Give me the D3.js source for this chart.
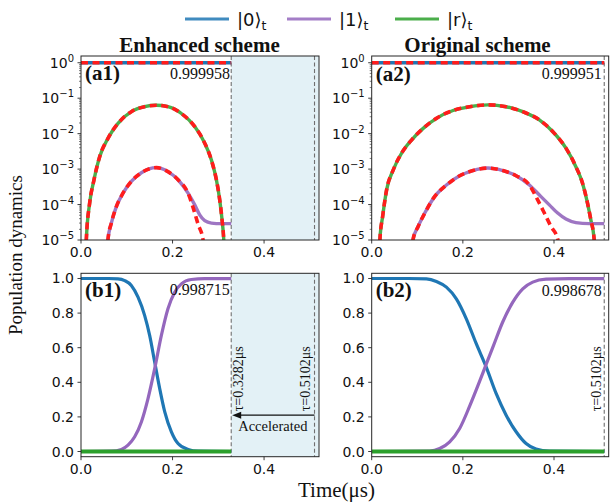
<!DOCTYPE html>
<html><head><meta charset="utf-8">
<script src="https://cdn.jsdelivr.net/npm/d3@7"></script>
<style>body{margin:0;background:#fff}</style>
</head><body><svg id="c" width="610" height="504"></svg>
<script>
// ---------------- data ----------------
const tauEnh = 0.3282, tauOrig = 0.5102;
const xTicks = [0, 0.2, 0.4];
const xTickLabels = ['0.0', '0.2', '0.4'];
const logTicks = [1, 1e-1, 1e-2, 1e-3, 1e-4, 1e-5];
const logTickExp = ['0', '\u22121', '\u22122', '\u22123', '\u22124', '\u22125'];
const linTicks = [0, 0.2, 0.4, 0.6, 0.8, 1.0];
const linTickLabels = ['0.0', '0.2', '0.4', '0.6', '0.8', '1.0'];
const legendLabels = ['|0\u27E9', '|1\u27E9', '|r\u27E9'];
const titles = ['Enhanced scheme', 'Original scheme'];
const fidelities = ['0.999958', '0.999951', '0.998715', '0.998678'];

// (a1) enhanced, log scale
const a1_t0 = [0, 0.3282];
const a1_p0 = [0.99996, 0.99996];
const a1_tr = [0.010, 0.0117, 0.0189, 0.0284, 0.0408, 0.059, 0.0809, 0.110, 0.139, 0.1647, 0.190, 0.2193, 0.2485, 0.2703, 0.2849, 0.2958, 0.3031, 0.3082, 0.3118, 0.3150];
const a1_pr = [1e-6, 1.07e-5, 1.10e-4, 5.0e-4, 2.24e-3, 7.4e-3, 1.95e-2, 4.17e-2, 5.75e-2, 6.3e-2, 5.75e-2, 3.7e-2, 1.58e-2, 5.4e-3, 1.8e-3, 5.0e-4, 1.35e-4, 3.7e-5, 1.07e-5, 1e-6];
const a1_t1 = [0.055, 0.059, 0.0663, 0.0772, 0.0918, 0.110, 0.1319, 0.1647, 0.190, 0.212, 0.2339, 0.2485, 0.2594, 0.2703, 0.2849, 0.3067, 0.3282];
const a1_p1 = [1e-6, 1.07e-5, 3.0e-5, 8.7e-5, 2.1e-4, 4.5e-4, 7.9e-4, 1.1e-3, 8.5e-4, 5.0e-4, 2.1e-4, 9.8e-5, 5.1e-5, 3.5e-5, 3.0e-5, 2.9e-5, 2.9e-5];
const a1_t1e = [0.055, 0.059, 0.0663, 0.0772, 0.0918, 0.110, 0.1319, 0.1647, 0.190, 0.212, 0.2339, 0.2448, 0.2557, 0.2667, 0.2720];
const a1_p1e = [1e-6, 1.07e-5, 3.0e-5, 8.7e-5, 2.1e-4, 4.5e-4, 7.9e-4, 1.1e-3, 8.5e-4, 5.0e-4, 2.1e-4, 8.3e-5, 2.8e-5, 1.0e-5, 1e-6];

// (a2) original, log scale
const a2_t0 = [0, 0.5102];
const a2_p0 = [0.99995, 0.99995];
const a2_tr = [0.015, 0.0181, 0.024, 0.0327, 0.0473, 0.0655, 0.0874, 0.1129, 0.142, 0.1784, 0.2149, 0.2549, 0.295, 0.3314, 0.3679, 0.397, 0.4262, 0.448, 0.4626, 0.4735, 0.4808, 0.488, 0.491];
const a2_pr = [1e-6, 1.07e-5, 4.6e-5, 2.6e-4, 9.5e-4, 2.8e-3, 6.6e-3, 1.41e-2, 2.7e-2, 4.5e-2, 5.75e-2, 6.5e-2, 5.75e-2, 4.17e-2, 2.45e-2, 1.15e-2, 3.9e-3, 1.17e-3, 4.0e-4, 1.10e-4, 3.7e-5, 1.07e-5, 1e-6];
const a2_t1 = [0.085, 0.091, 0.1019, 0.1165, 0.1384, 0.1639, 0.193, 0.2221, 0.2549, 0.2877, 0.3169, 0.346, 0.3679, 0.3897, 0.408, 0.4262, 0.448, 0.4772, 0.5102];
const a2_p1 = [1e-6, 1.07e-5, 2.4e-5, 5.75e-5, 1.7e-4, 3.55e-4, 6.5e-4, 9.1e-4, 1.07e-3, 9.1e-4, 6.5e-4, 3.55e-4, 1.86e-4, 9.8e-5, 5.75e-5, 3.9e-5, 3.1e-5, 2.9e-5, 2.9e-5];
const a2_t1e = [0.085, 0.091, 0.1019, 0.1165, 0.1384, 0.1639, 0.193, 0.2221, 0.2549, 0.2877, 0.3169, 0.346, 0.3642, 0.3788, 0.3934, 0.408, 0.414];
const a2_p1e = [1e-6, 1.07e-5, 2.4e-5, 5.75e-5, 1.7e-4, 3.55e-4, 6.5e-4, 9.1e-4, 1.07e-3, 9.1e-4, 6.5e-4, 3.55e-4, 1.35e-4, 5.75e-5, 2.4e-5, 1.07e-5, 1e-6];

// (b1) enhanced, linear
const b1_t0 = [0, 0.060, 0.0809, 0.0954, 0.110, 0.1246, 0.139, 0.150, 0.161, 0.172, 0.183, 0.1975, 0.212, 0.234, 0.2557, 0.3282];
const b1_p0 = [1.0, 1.0, 0.998, 0.988, 0.960, 0.892, 0.787, 0.671, 0.517, 0.363, 0.229, 0.114, 0.046, 0.012, 0.002, 0.0];
const b1_t1 = [0, 0.0663, 0.0882, 0.1027, 0.1173, 0.1319, 0.1464, 0.161, 0.1756, 0.190, 0.2047, 0.2193, 0.241, 0.2703, 0.3282];
const b1_p1 = [0, 0.002, 0.012, 0.037, 0.085, 0.171, 0.306, 0.479, 0.671, 0.825, 0.921, 0.969, 0.994, 0.999, 0.9987];
const b1_tr = [0, 0.3282];
const b1_pr = [0, 0];

// (b2) original, linear
const b2_t0 = [0, 0.080, 0.1202, 0.142, 0.1639, 0.1857, 0.2076, 0.2294, 0.2513, 0.2732, 0.295, 0.3169, 0.3387, 0.3606, 0.3897, 0.5102];
const b2_p0 = [1.0, 1.0, 0.998, 0.983, 0.950, 0.882, 0.767, 0.623, 0.488, 0.334, 0.210, 0.114, 0.046, 0.014, 0.002, 0.0];
const b2_t1 = [0, 0.1274, 0.1493, 0.1711, 0.193, 0.2149, 0.2367, 0.2513, 0.2659, 0.2877, 0.3096, 0.3314, 0.3533, 0.3824, 0.4334, 0.5102];
const b2_p1 = [0, 0.002, 0.017, 0.056, 0.133, 0.262, 0.405, 0.505, 0.603, 0.750, 0.863, 0.940, 0.979, 0.996, 0.999, 0.9987];
const b2_tr = [0, 0.5102];
const b2_pr = [0, 0];

// ---------------- drawing ----------------
const svg = d3.select('#c');
const serif = "'Liberation Serif','Times New Roman',serif";
const sans = "'DejaVu Sans',sans-serif";
const C0 = '#1f77b4', C1 = '#9467bd', CR = '#2ca02c', CE = '#ff1c1c';
const zip = (a, b) => a.map((v, i) => [v, b[i]]);

function panel(id, box, log, tau, shade, series, approx, fid, fidPos, label) {
  const x = d3.scaleLinear().domain([0, 0.52]).range([box.x0, box.x1]);
  const y = log ? d3.scaleLog().domain([1e-5, 1.55]).range([box.y1, box.y0])
                : d3.scaleLinear().domain([-0.03, 1.03]).range([box.y1, box.y0]);
  const g = svg.append('g');
  g.append('clipPath').attr('id', 'clip' + id).append('rect')
    .attr('x', box.x0).attr('y', box.y0).attr('width', box.x1 - box.x0).attr('height', box.y1 - box.y0);
  if (shade) {
    g.append('rect').attr('x', x(tauEnh)).attr('y', box.y0)
      .attr('width', box.x1 - x(tauEnh)).attr('height', box.y1 - box.y0).attr('fill', '#e3f1f6');
  }
  const vlines = shade ? [tauEnh, tauOrig] : [tauOrig];
  vlines.forEach(v => g.append('line').attr('x1', x(v)).attr('x2', x(v)).attr('y1', box.y0).attr('y2', box.y1)
    .attr('stroke', '#707070').attr('stroke-width', 1.1).attr('stroke-dasharray', '4,2.5'));
  const line = d3.line().x(d => x(d[0])).y(d => y(d[1])).curve(d3.curveMonotoneX);
  const cg = g.append('g').attr('clip-path', `url(#clip${id})`);
  series.forEach(s => cg.append('path').attr('d', line(s.d)).attr('fill', 'none')
    .attr('stroke', s.c).attr('stroke-width', s.w).attr('stroke-opacity', s.o || 1)
    .attr('stroke-linejoin', 'round'));
  approx.forEach(dd => cg.append('path').attr('d', line(dd)).attr('fill', 'none')
    .attr('stroke', CE).attr('stroke-width', 3.6).attr('stroke-dasharray', '7,4.5'));
  // frame
  g.append('rect').attr('x', box.x0).attr('y', box.y0).attr('width', box.x1 - box.x0)
    .attr('height', box.y1 - box.y0).attr('fill', 'none').attr('stroke', '#262626').attr('stroke-width', 1);
  // x ticks
  xTicks.forEach((v, i) => {
    g.append('line').attr('x1', x(v)).attr('x2', x(v)).attr('y1', box.y1).attr('y2', box.y1 + 3.5)
      .attr('stroke', '#262626').attr('stroke-width', 0.9);
    g.append('text').attr('x', x(v)).attr('y', box.y1 + 17).attr('text-anchor', 'middle')
      .attr('font-family', sans).attr('font-size', 14).attr('fill', '#111').text(xTickLabels[i]);
  });
  if (log) {
    for (let k = -5; k <= 0; k++) for (let m = 2; m <= 9; m++) {
      const v = m * Math.pow(10, k);
      if (v > 1.55) continue;
      g.append('line').attr('x1', box.x0 - 2).attr('x2', box.x0).attr('y1', y(v)).attr('y2', y(v))
        .attr('stroke', '#262626').attr('stroke-width', 0.6);
    }
    logTicks.forEach((v, i) => {
      g.append('line').attr('x1', box.x0 - 3.5).attr('x2', box.x0).attr('y1', y(v)).attr('y2', y(v))
        .attr('stroke', '#262626').attr('stroke-width', 0.9);
      const t = g.append('text').attr('x', box.x0 - 7).attr('y', y(v) + 5).attr('text-anchor', 'end')
        .attr('font-family', sans).attr('font-size', 14).attr('fill', '#111');
      t.append('tspan').text('10');
      t.append('tspan').attr('font-size', 10).attr('dy', -6).text(logTickExp[i]);
    });
  } else {
    linTicks.forEach((v, i) => {
      g.append('line').attr('x1', box.x0 - 3.5).attr('x2', box.x0).attr('y1', y(v)).attr('y2', y(v))
        .attr('stroke', '#262626').attr('stroke-width', 0.9);
      g.append('text').attr('x', box.x0 - 7).attr('y', y(v) + 5).attr('text-anchor', 'end')
        .attr('font-family', sans).attr('font-size', 14).attr('fill', '#111').text(linTickLabels[i]);
    });
  }
  g.append('text').attr('x', box.x0 + 4).attr('y', label.y).attr('font-family', serif)
    .attr('font-weight', 'bold').attr('font-size', 21).attr('fill', '#111').text(label.t);
  g.append('text').attr('x', fidPos.x).attr('y', fidPos.y).attr('text-anchor', 'end')
    .attr('font-family', serif).attr('font-size', 16).attr('fill', '#111').text(fid);
  return {x, y, g};
}

const A1 = {x0: 81, x1: 319, y0: 56, y1: 240};
const A2 = {x0: 371.7, x1: 608.7, y0: 56, y1: 240};
const B1 = {x0: 81, x1: 319, y0: 273.3, y1: 456.7};
const B2 = {x0: 371.7, x1: 608.7, y0: 273.3, y1: 456.7};

panel('a1', A1, true, tauEnh, true,
  [{d: zip(a1_tr, a1_pr), c: CR, w: 3.4, o: 0.85}, {d: zip(a1_t1, a1_p1), c: C1, w: 3.4, o: 0.9}, {d: zip(a1_t0, a1_p0), c: C0, w: 3.4}],
  [zip(a1_t0, a1_p0), zip(a1_tr, a1_pr), zip(a1_t1e, a1_p1e)],
  fidelities[0], {x: 230, y: 79}, {t: '(a1)', y: 80});
panel('a2', A2, true, tauOrig, false,
  [{d: zip(a2_tr, a2_pr), c: CR, w: 3.4, o: 0.85}, {d: zip(a2_t1, a2_p1), c: C1, w: 3.4, o: 0.9}, {d: zip(a2_t0, a2_p0), c: C0, w: 3.4}],
  [zip(a2_t0, a2_p0), zip(a2_tr, a2_pr), zip(a2_t1e, a2_p1e)],
  fidelities[1], {x: 601.7, y: 79}, {t: '(a2)', y: 81});
const pb1 = panel('b1', B1, false, tauEnh, true,
  [{d: zip(b1_t0, b1_p0), c: C0, w: 3.2}, {d: zip(b1_t1, b1_p1), c: C1, w: 3.2}, {d: zip(b1_tr, b1_pr), c: CR, w: 4}],
  [], fidelities[2], {x: 229.7, y: 294.7}, {t: '(b1)', y: 297});
const pb2 = panel('b2', B2, false, tauOrig, false,
  [{d: zip(b2_t0, b2_p0), c: C0, w: 3.2}, {d: zip(b2_t1, b2_p1), c: C1, w: 3.2}, {d: zip(b2_tr, b2_pr), c: CR, w: 4}],
  [], fidelities[3], {x: 601.7, y: 296}, {t: '(b2)', y: 297});

// b1 annotations
function vtext(g, xp, yp, s) {
  g.append('text').attr('transform', `translate(${xp},${yp}) rotate(-90)`)
    .attr('font-family', serif).attr('font-size', 14).attr('fill', '#111').text(s);
}
{
  const {x, y, g} = pb1;
  const ya = y(0.21);
  g.append('line').attr('x1', x(tauOrig)).attr('x2', x(tauEnh) + 8).attr('y1', ya).attr('y2', ya)
    .attr('stroke', '#111').attr('stroke-width', 1.3);
  g.append('path').attr('d', `M${x(tauEnh) + 1},${ya} l9,-3.5 l0,7 z`).attr('fill', '#111');
  g.append('text').attr('x', x(tauEnh) + 7).attr('y', y(0.121)).attr('font-family', serif)
    .attr('font-size', 14.5).attr('fill', '#111').text('Accelerated');
  vtext(g, x(tauEnh) + 12, y(0.232), '\u03C4=0.3282\u03BCs');
  vtext(g, x(tauOrig) - 4.5, y(0.232), '\u03C4=0.5102\u03BCs');
}
vtext(pb2.g, pb2.x(tauOrig) - 3.5, pb2.y(0.232), '\u03C4=0.5102\u03BCs');

// titles
svg.append('text').attr('x', 199.5).attr('y', 52).attr('text-anchor', 'middle').attr('font-family', serif)
  .attr('font-weight', 'bold').attr('font-size', 21).attr('fill', '#111').text(titles[0]);
svg.append('text').attr('x', 477.5).attr('y', 52).attr('text-anchor', 'middle').attr('font-family', serif)
  .attr('font-weight', 'bold').attr('font-size', 21).attr('fill', '#111').text(titles[1]);

// axis labels
svg.append('text').attr('transform', 'translate(22,255) rotate(-90)').attr('text-anchor', 'middle')
  .attr('font-family', serif).attr('font-size', 19).attr('fill', '#111').text('Population dynamics');
svg.append('text').attr('x', 336.5).attr('y', 497).attr('text-anchor', 'middle')
  .attr('font-family', serif).attr('font-size', 21).attr('fill', '#111').text('Time(\u03BCs)');

// legend
const legX = [185, 287, 395];
const legC = [C0, C1, CR];
legendLabels.forEach((s, i) => {
  svg.append('line').attr('x1', legX[i]).attr('x2', legX[i] + 44).attr('y1', 19).attr('y2', 19)
    .attr('stroke', legC[i]).attr('stroke-width', 3).attr('stroke-opacity', 0.85);
  const t = svg.append('text').attr('x', legX[i] + 52).attr('y', 26).attr('font-family', sans)
    .attr('font-size', 18).attr('fill', '#111');
  t.append('tspan').text(s);
  t.append('tspan').attr('font-size', 12.5).attr('dy', 3.5).text('t');
});
</script></body></html>
